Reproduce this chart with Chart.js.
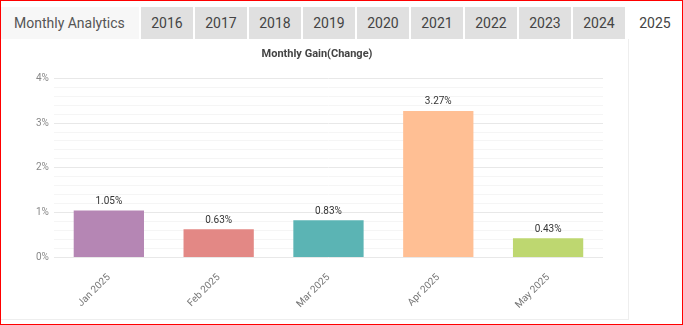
<!DOCTYPE html>
<html>
<head>
<meta charset="utf-8">
<script src="https://cdn.jsdelivr.net/npm/chart.js@4.4.1/dist/chart.umd.min.js"></script>
<style>
  html, body { margin: 0; padding: 0; background: #fff; }
  .page {
    position: relative;
    width: 683px; height: 325px;
    box-sizing: border-box;
    border: 1px solid #ff0000;
    overflow: hidden;
    font-family: Roboto, "Open Sans", sans-serif;
  }
  .tabs { position: absolute; left: 0; top: 6px; height: 32px; width: 683px; }
  .tab {
    position: absolute; top: 0; height: 32px; line-height: 32px;
    text-align: center; font-size: 14px; color: #444;
    background: #e0e0e0;
  }
  .tab.title { background: #f7f7f7; color: #555; text-align: left; padding-left: 13px; box-sizing: border-box; }
  .tab.active { background: #fff; }
  .panel {
    position: absolute; left: 0; top: 38px; width: 627px; height: 280px;
    border-right: 1px solid #eee; border-bottom: 1px solid #eee;
  }
  .chart-box { position: absolute; left: 0; top: 5px; width: 627px; height: 273px; }
</style>
</head>
<body>
<div class="page">
  <div class="tabs" id="tabs"></div>
  <div class="panel">
    <div class="chart-box"><canvas id="gainChart"></canvas></div>
  </div>
</div>
<script>
// Monthly gain data
const months = ['Jan 2025', 'Feb 2025', 'Mar 2025', 'Apr 2025', 'May 2025'];
const gains = [1.05, 0.63, 0.83, 3.27, 0.43];
const barColors = ['#b586b4', '#e38885', '#5bb4b4', '#ffbf94', '#bed770'];
const years = ['2016', '2017', '2018', '2019', '2020', '2021', '2022', '2023', '2024', '2025'];

// Build the tab row
const tabs = document.getElementById('tabs');
const head = document.createElement('div');
head.className = 'tab title';
head.style.left = '0px';
head.style.width = '138px';
head.textContent = 'Monthly Analytics';
tabs.appendChild(head);
years.forEach((y, i) => {
  const t = document.createElement('div');
  t.className = 'tab' + (i === years.length - 1 ? ' active' : '');
  t.style.left = (140 + i * 54) + 'px';
  t.style.width = (i === years.length - 1 ? 56 : 52) + 'px';
  t.textContent = y;
  tabs.appendChild(t);
});

// Draw value labels above each bar
const valueLabels = {
  id: 'valueLabels',
  afterDatasetsDraw(chart) {
    const ctx = chart.ctx;
    const meta = chart.getDatasetMeta(0);
    ctx.save();
    ctx.font = '10px Roboto, sans-serif';
    ctx.fillStyle = '#333';
    ctx.textAlign = 'center';
    ctx.textBaseline = 'bottom';
    meta.data.forEach((bar, i) => {
      ctx.fillText(gains[i].toFixed(2) + '%', bar.x, bar.y - 4);
    });
    ctx.restore();
  }
};

Chart.defaults.font.family = 'Roboto, sans-serif';

new Chart(document.getElementById('gainChart').getContext('2d'), {
  type: 'bar',
  data: {
    labels: months,
    datasets: [{
      label: 'Monthly Gain',
      data: gains,
      backgroundColor: barColors,
      borderWidth: 0,
      barPercentage: 0.8,
      categoryPercentage: 0.8
    }]
  },
  options: {
    responsive: true,
    maintainAspectRatio: false,
    animation: false,
    layout: { padding: { left: 30, right: 25, top: 0, bottom: 0 } },
    plugins: {
      legend: { display: false },
      tooltip: { enabled: false },
      title: {
        display: true,
        text: 'Monthly Gain(Change)',
        color: '#444',
        font: { size: 11, weight: 'bold' },
        padding: { top: 4, bottom: 17 }
      }
    },
    scales: {
      x: {
        grid: { display: false },
        border: { display: false },
        ticks: {
          color: '#777',
          font: { size: 10 },
          maxRotation: 45,
          minRotation: 45,
          padding: 6
        }
      },
      y: {
        min: 0,
        max: 4,
        border: { display: false },
        grid: {
          color: ctx => Number.isInteger(Math.round(ctx.tick.value * 100) / 100) ? '#e8e8e8' : '#f5f5f5',
          drawTicks: false
        },
        ticks: {
          stepSize: 0.2,
          color: '#888',
          font: { size: 10 },
          padding: 5,
          autoSkip: false,
          callback: function(value) {
            const v = Math.round(value * 100) / 100;
            return Number.isInteger(v) ? v + '%' : '';
          }
        }
      }
    }
  },
  plugins: [valueLabels]
});
</script>
</body>
</html>
